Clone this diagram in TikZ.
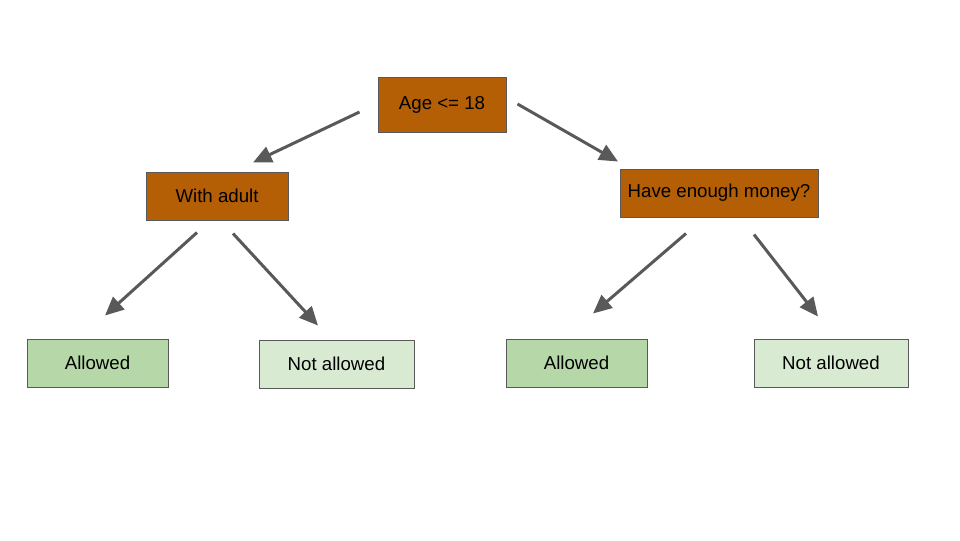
\documentclass[tikz,border=0pt]{standalone}
\usepackage{fontspec}
\setmainfont{Liberation Sans}
\usepackage{xcolor}
\definecolor{rustorange}{HTML}{B45F06}
\definecolor{leafgreen}{HTML}{B6D7A8}
\definecolor{palegreen}{HTML}{D9EAD3}
\definecolor{edgegrey}{HTML}{595959}
\usepackage{tikz}
\usetikzlibrary{
  arrows.meta,
  positioning
}

\begin{document}
\begin{tikzpicture}[
  x=0.75pt, y=-0.75pt,
  question/.style={rectangle, draw=edgegrey, line width=0.75pt, fill=rustorange, minimum height=36pt, font=\fontsize{14pt}{16pt}\selectfont},
  yes/.style={rectangle, draw=edgegrey, line width=0.75pt, fill=leafgreen, minimum height=36pt, font=\fontsize{14pt}{16pt}\selectfont},
  no/.style={rectangle, draw=edgegrey, line width=0.75pt, fill=palegreen, minimum height=36pt, font=\fontsize{14pt}{16pt}\selectfont},
  arr/.style={-{Triangle[length=14pt,width=12.5pt]}, line width=2.25pt, edgegrey}
]
  \useasboundingbox (0,0) rectangle (960,540);

  \node[question, minimum width=96pt, minimum height=41.25pt] (age) at (442,104.5) {Age <= 18};
  \node[question, minimum width=106.5pt] (adult) at (217,196) {With adult};
  \node[question, minimum width=148.5pt] (money) at (719,193) {Have enough money?};

  \node[yes, minimum width=105.75pt] (allowA) at (97.5,363) {Allowed};
  \node[no, minimum width=116.25pt] (denyA) at (336.5,364) {Not allowed};
  \node[yes, minimum width=105.75pt] (allowB) at (576.5,363) {Allowed};
  \node[no, minimum width=115.5pt] (denyB) at (831,363) {Not allowed};

  \draw[arr] ([shift={(-18,7.5)}]age.west) -- ([shift={(36,-9)}]adult.north);
  \draw[arr] ([shift={(11,-0.5)}]age.east) -- ([shift={(-101,-7)}]money.north);

  \draw[arr] ([shift={(-20,12)}]adult.south) -- ([shift={(7.5,-23)}]allowA.north);
  \draw[arr] ([shift={(16,13)}]adult.south) -- ([shift={(-18.5,-14)}]denyA.north);
  \draw[arr] ([shift={(-33,16)}]money.south) -- ([shift={(16.5,-25)}]allowB.north);
  \draw[arr] ([shift={(35,17)}]money.south) -- ([shift={(-13,-22)}]denyB.north);
\end{tikzpicture}
\end{document}
